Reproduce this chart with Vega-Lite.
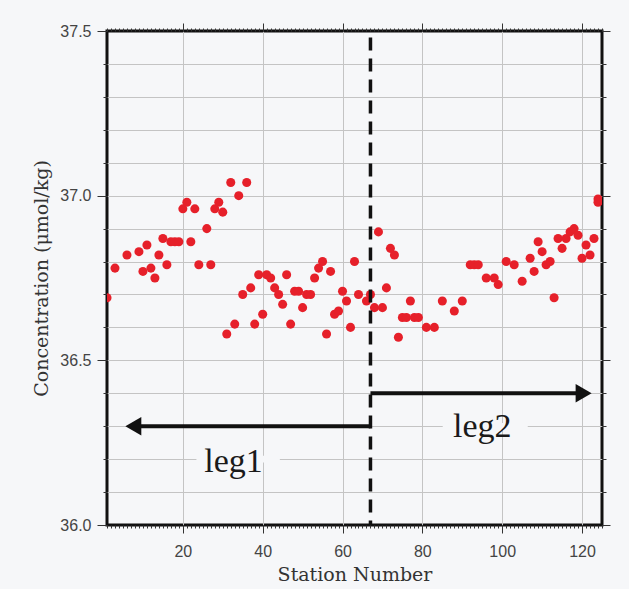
{
  "$schema": "https://vega.github.io/schema/vega-lite/v6.json",
  "width": 495,
  "height": 494,
  "autosize": "none",
  "padding": {"left": 107, "top": 31, "right": 27, "bottom": 64},
  "background": "#f6f7f9",
  "config": {
    "view": {"stroke": "#111111", "strokeWidth": 3, "fill": "#f6f7f9"},
    "axis": {
      "domain": false,
      "gridColor": "#c4c4c4",
      "gridWidth": 1,
      "tickColor": "#333333",
      "tickWidth": 1,
      "labelFont": "Liberation Sans",
      "labelFontSize": 16,
      "labelColor": "#444444",
      "titleFont": "DejaVu Serif",
      "titleFontSize": 19,
      "titleFontWeight": "normal",
      "titleColor": "#333333"
    }
  },
  "datasets": {
    "obs": [
      {"station": 1, "conc": 36.69}, {"station": 3, "conc": 36.78}, {"station": 6, "conc": 36.82},
      {"station": 9, "conc": 36.83}, {"station": 10, "conc": 36.77}, {"station": 11, "conc": 36.85},
      {"station": 12, "conc": 36.78}, {"station": 13, "conc": 36.75}, {"station": 14, "conc": 36.82},
      {"station": 15, "conc": 36.87}, {"station": 16, "conc": 36.79}, {"station": 17, "conc": 36.86},
      {"station": 18, "conc": 36.86}, {"station": 19, "conc": 36.86}, {"station": 20, "conc": 36.96},
      {"station": 21, "conc": 36.98}, {"station": 22, "conc": 36.86}, {"station": 23, "conc": 36.96},
      {"station": 24, "conc": 36.79}, {"station": 26, "conc": 36.90}, {"station": 27, "conc": 36.79},
      {"station": 28, "conc": 36.96}, {"station": 29, "conc": 36.98}, {"station": 30, "conc": 36.95},
      {"station": 31, "conc": 36.58}, {"station": 32, "conc": 37.04}, {"station": 33, "conc": 36.61},
      {"station": 34, "conc": 37.00}, {"station": 35, "conc": 36.70}, {"station": 36, "conc": 37.04},
      {"station": 37, "conc": 36.72}, {"station": 38, "conc": 36.61}, {"station": 39, "conc": 36.76},
      {"station": 40, "conc": 36.64}, {"station": 41, "conc": 36.76}, {"station": 42, "conc": 36.75},
      {"station": 43, "conc": 36.72}, {"station": 44, "conc": 36.70}, {"station": 45, "conc": 36.67},
      {"station": 46, "conc": 36.76}, {"station": 47, "conc": 36.61}, {"station": 48, "conc": 36.71},
      {"station": 49, "conc": 36.71}, {"station": 50, "conc": 36.66}, {"station": 51, "conc": 36.70},
      {"station": 52, "conc": 36.70}, {"station": 53, "conc": 36.75}, {"station": 54, "conc": 36.78},
      {"station": 55, "conc": 36.80}, {"station": 56, "conc": 36.58}, {"station": 57, "conc": 36.77},
      {"station": 58, "conc": 36.64}, {"station": 59, "conc": 36.65}, {"station": 60, "conc": 36.71},
      {"station": 61, "conc": 36.68}, {"station": 62, "conc": 36.60}, {"station": 63, "conc": 36.80},
      {"station": 64, "conc": 36.70}, {"station": 66, "conc": 36.68}, {"station": 67, "conc": 36.70},
      {"station": 68, "conc": 36.66}, {"station": 69, "conc": 36.89}, {"station": 70, "conc": 36.66},
      {"station": 71, "conc": 36.72}, {"station": 72, "conc": 36.84}, {"station": 73, "conc": 36.82},
      {"station": 74, "conc": 36.57}, {"station": 75, "conc": 36.63}, {"station": 76, "conc": 36.63},
      {"station": 77, "conc": 36.68}, {"station": 78, "conc": 36.63}, {"station": 79, "conc": 36.63},
      {"station": 81, "conc": 36.60}, {"station": 83, "conc": 36.60}, {"station": 85, "conc": 36.68},
      {"station": 88, "conc": 36.65}, {"station": 90, "conc": 36.68}, {"station": 92, "conc": 36.79},
      {"station": 93, "conc": 36.79}, {"station": 94, "conc": 36.79}, {"station": 96, "conc": 36.75},
      {"station": 98, "conc": 36.75}, {"station": 99, "conc": 36.73}, {"station": 101, "conc": 36.80},
      {"station": 103, "conc": 36.79}, {"station": 105, "conc": 36.74}, {"station": 107, "conc": 36.81},
      {"station": 108, "conc": 36.77}, {"station": 109, "conc": 36.86}, {"station": 110, "conc": 36.83},
      {"station": 111, "conc": 36.79}, {"station": 112, "conc": 36.80}, {"station": 113, "conc": 36.69},
      {"station": 114, "conc": 36.87}, {"station": 115, "conc": 36.84}, {"station": 116, "conc": 36.87},
      {"station": 117, "conc": 36.89}, {"station": 118, "conc": 36.90}, {"station": 119, "conc": 36.88},
      {"station": 120, "conc": 36.81}, {"station": 121, "conc": 36.85}, {"station": 122, "conc": 36.82},
      {"station": 123, "conc": 36.87}, {"station": 124, "conc": 36.99}, {"station": 124, "conc": 36.98}
    ],
    "divider": [{"station": 67, "top": 37.48, "bottom": 36.0}],
    "arrows": [
      {"leg": "leg1", "start": 67, "end": 8, "level": 36.3},
      {"leg": "leg2", "start": 67, "end": 120, "level": 36.4}
    ],
    "heads": [
      {"leg": "leg1", "tip": 7.6, "level": 36.3, "dir": "triangle-left"},
      {"leg": "leg2", "tip": 120.4, "level": 36.4, "dir": "triangle-right"}
    ],
    "boxes": [
      {"leg": "leg1", "x1": 23.4, "x2": 44.3, "y1": 36.19, "y2": 36.21},
      {"leg": "leg2", "x1": 85.1, "x2": 106.4, "y1": 36.29, "y2": 36.31}
    ],
    "labels": [
      {"leg": "leg1", "station": 32.7, "level": 36.161},
      {"leg": "leg2", "station": 95.0, "level": 36.268}
    ]
  },
  "resolve": {"axis": {"x": "independent", "y": "independent"}},
  "layer": [
    {
      "data": {"name": "obs"},
      "mark": {"type": "point", "filled": true, "opacity": 1, "size": 82, "color": "#e6202a", "clip": true},
      "encoding": {
        "x": {"field": "station", "type": "quantitative",
          "scale": {"domain": [1, 125], "nice": false, "zero": false},
          "axis": {"orient": "bottom", "values": [20, 40, 60, 80, 100, 120], "tickSize": 8, "labelPadding": 10,
            "grid": true, "title": "Station Number", "titlePadding": 6}},
        "y": {"field": "conc", "type": "quantitative",
          "scale": {"domain": [36.0, 37.5], "nice": false, "zero": false},
          "axis": {"orient": "left", "values": [36.0, 36.5, 37.0, 37.5], "format": ".1f", "tickSize": 10,
            "labelPadding": 6, "labelFlush": false, "grid": false,
            "title": "Concentration (μmol/kg)", "titlePadding": 8}}
      }
    },
    {
      "data": {"name": "divider"},
      "mark": {"type": "rule", "color": "#111111", "strokeWidth": 3.5, "strokeDash": [13, 8]},
      "encoding": {
        "x": {"field": "station", "type": "quantitative",
          "scale": {"domain": [1, 125], "nice": false, "zero": false},
          "axis": {"orient": "bottom", "values": [1,2,3,4,5,6,7,8,9,10,11,12,13,14,15,16,17,18,19,20,21,22,23,24,25,26,27,28,29,30,31,32,33,34,35,36,37,38,39,40,41,42,43,44,45,46,47,48,49,50,51,52,53,54,55,56,57,58,59,60,61,62,63,64,65,66,67,68,69,70,71,72,73,74,75,76,77,78,79,80,81,82,83,84,85,86,87,88,89,90,91,92,93,94,95,96,97,98,99,100,101,102,103,104,105,106,107,108,109,110,111,112,113,114,115,116,117,118,119,120,121,122,123,124,125],
            "tickSize": 3, "labels": false, "grid": false, "title": null}},
        "y": {"field": "top", "type": "quantitative",
          "scale": {"domain": [36.0, 37.5], "nice": false, "zero": false},
          "axis": {"orient": "left", "values": [36.1,36.2,36.3,36.4,36.5,36.6,36.7,36.8,36.9,37.0,37.1,37.2,37.3,37.4],
            "tickSize": 4, "labels": false, "grid": true, "title": null}},
        "y2": {"field": "bottom"}
      }
    },
    {
      "data": {"name": "arrows"},
      "mark": {"type": "rule", "color": "#111111", "strokeWidth": 4},
      "encoding": {
        "x": {"field": "start", "type": "quantitative",
          "scale": {"domain": [1, 125], "nice": false, "zero": false},
          "axis": {"orient": "top", "values": [1,2,3,4,5,6,7,8,9,10,11,12,13,14,15,16,17,18,19,20,21,22,23,24,25,26,27,28,29,30,31,32,33,34,35,36,37,38,39,40,41,42,43,44,45,46,47,48,49,50,51,52,53,54,55,56,57,58,59,60,61,62,63,64,65,66,67,68,69,70,71,72,73,74,75,76,77,78,79,80,81,82,83,84,85,86,87,88,89,90,91,92,93,94,95,96,97,98,99,100,101,102,103,104,105,106,107,108,109,110,111,112,113,114,115,116,117,118,119,120,121,122,123,124,125],
            "tickSize": 3, "labels": false, "grid": false, "title": null}},
        "x2": {"field": "end"},
        "y": {"field": "level", "type": "quantitative",
          "scale": {"domain": [36.0, 37.5], "nice": false, "zero": false},
          "axis": {"orient": "right", "values": [36.0,36.1,36.2,36.3,36.4,36.5,36.6,36.7,36.8,36.9,37.0,37.1,37.2,37.3,37.4,37.5],
            "tickSize": 4, "labels": false, "grid": false, "title": null}}
      }
    },
    {
      "data": {"name": "heads"},
      "mark": {"type": "point", "filled": true, "opacity": 1, "color": "#111111", "size": 340},
      "encoding": {
        "x": {"field": "tip", "type": "quantitative",
          "scale": {"domain": [1, 125], "nice": false, "zero": false},
          "axis": {"orient": "top", "values": [20, 40, 60, 80, 100, 120], "tickSize": 8, "labels": false, "grid": false, "title": null}},
        "y": {"field": "level", "type": "quantitative",
          "scale": {"domain": [36.0, 37.5], "nice": false, "zero": false},
          "axis": {"orient": "right", "values": [36.0, 36.5, 37.0, 37.5], "tickSize": 8, "labels": false, "grid": false, "title": null}},
        "shape": {"field": "dir", "type": "nominal", "scale": null}
      }
    },
    {
      "data": {"name": "boxes"},
      "mark": {"type": "rect", "color": "#f6f7f9"},
      "encoding": {
        "x": {"field": "x1", "type": "quantitative", "scale": {"domain": [1, 125], "nice": false, "zero": false}, "axis": null},
        "x2": {"field": "x2"},
        "y": {"field": "y1", "type": "quantitative", "scale": {"domain": [36.0, 37.5], "nice": false, "zero": false}, "axis": null},
        "y2": {"field": "y2"}
      }
    },
    {
      "data": {"name": "labels"},
      "mark": {"type": "text", "font": "Liberation Serif", "fontSize": 34, "color": "#1a1a1a", "align": "center", "baseline": "alphabetic"},
      "encoding": {
        "x": {"field": "station", "type": "quantitative", "scale": {"domain": [1, 125], "nice": false, "zero": false}, "axis": null},
        "y": {"field": "level", "type": "quantitative", "scale": {"domain": [36.0, 37.5], "nice": false, "zero": false}, "axis": null},
        "text": {"field": "leg"}
      }
    }
  ]
}
